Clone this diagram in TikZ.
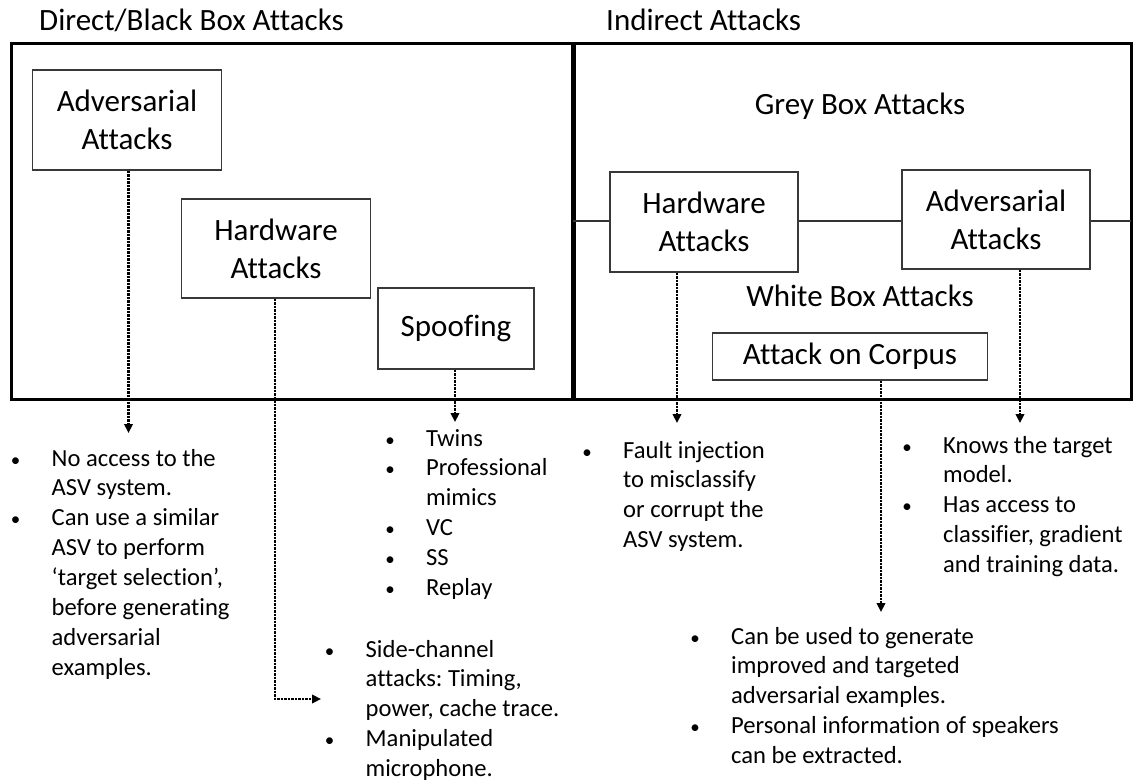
\documentclass[tikz,border=0pt]{standalone}
\usepackage{fontspec}
\setmainfont{Carlito}[RawFeature={-liga;-clig;-calt}]
\usetikzlibrary{arrows.meta}

% bullet centred on the list's left edge, text 36pt further right
\newcommand{\bul}{\makebox[36pt][l]{\makebox[0pt]{\fontsize{19}{19}\selectfont\textbullet}}}

\begin{document}
\frenchspacing
\begin{tikzpicture}[x=1pt,y=-1pt,
  frame/.style={line width=3pt, draw=black},
  divider/.style={line width=5pt, draw=black},
  zone/.style={line width=1.2pt, draw=black!80},
  attackbox/.style={draw=black!78, line width=1.3pt, fill=white, inner sep=0pt,
    align=center, font=\fontsize{31}{38}\selectfont},
  heading/.style={inner sep=0pt, font=\fontsize{31}{38}\selectfont},
  notes/.style={inner sep=0pt, anchor=base west, font=\fontsize{24.6}{29.9}\selectfont},
  lead/.style={line width=2.6pt, dash pattern=on 2.4pt off 1.1pt,
    -{Triangle[length=9pt,width=8.5pt]}},
]
\useasboundingbox (0,0) rectangle (1133,781);

% outer frame and the split between direct and indirect attacks
\coordinate (fnw) at (11,44);
\coordinate (fse) at (1131,399);
\coordinate (dtop) at (573,44);
\coordinate (dbot) at (573,399);
\draw[frame] (fnw) rectangle (fse);
\draw[divider] (dtop) -- (dbot);

% boundary between the grey box and white box regions
\coordinate (gw) at (573,221);
\coordinate (ge) at (1131,221);
\draw[zone] (gw) -- (ge);

% headings
\node[heading, anchor=base west] (hdirect) at (39,31) {Direct/Black Box Attacks};
\node[heading, anchor=base west] (hindirect) at (606,31) {Indirect Attacks};
\node[heading, anchor=base] (hgrey) at (860,115) {Grey Box Attacks};
\node[heading, anchor=base] (hwhite) at (860,306) {White Box Attacks};

% direct attacks
\node[attackbox, minimum width=188.5pt, minimum height=100pt] (ladv) at (127,120) {Adversarial\\Attacks};
\node[attackbox, minimum width=188.5pt, minimum height=99pt] (lhw) at (276,248.5) {Hardware\\Attacks};
\node[attackbox, minimum width=156pt, minimum height=81pt] (spoof) at (456,328.5) {Spoofing};

% indirect attacks
\node[attackbox, minimum width=188pt, minimum height=100pt] (rhw) at (704,222) {Hardware\\Attacks};
\node[attackbox, minimum width=188pt, minimum height=99pt] (radv) at (996,219.5) {Adversarial\\Attacks};
\node[attackbox, minimum width=275.6pt, minimum height=47pt] (corpus) at (850,356.5) {Attack on Corpus};

% descriptions
\node[notes] (nladv) at (15.5,466) {\begin{tabular}[t]{@{}l@{}l@{}}
\bul & No access to the\\
     & ASV system.\\
\bul & Can use a similar\\
     & ASV to perform\\
     & ‘target selection’,\\
     & before generating\\
     & adversarial\\
     & examples.
\end{tabular}};

\node[notes] (nspoof) at (390,446) {\begin{tabular}[t]{@{}l@{}l@{}}
\bul & Twins\\
\bul & Professional\\
     & mimics\\
\bul & VC\\
\bul & SS\\
\bul & Replay
\end{tabular}};

\node[notes] (nlhw) at (329.5,657) {\begin{tabular}[t]{@{}l@{}l@{}}
\bul & Side-channel\\
     & attacks: Timing,\\
     & power, cache trace.\\
\bul & Manipulated\\
     & microphone.
\end{tabular}};

\node[notes] (nrhw) at (587,458) {\begin{tabular}[t]{@{}l@{}l@{}}
\bul & Fault injection\\
     & to misclassify\\
     & or corrupt the\\
     & ASV system.
\end{tabular}};

\node[notes] (nradv) at (907,453) {\begin{tabular}[t]{@{}l@{}l@{}}
\bul & Knows the target\\
     & model.\\
\bul & Has access to\\
     & classifier, gradient\\
     & and training data.
\end{tabular}};

\node[notes] (ncorpus) at (695,644) {\begin{tabular}[t]{@{}l@{}l@{}}
\bul & Can be used to generate\\
     & improved and targeted\\
     & adversarial examples.\\
\bul & Personal information of speakers\\
     & can be extracted.
\end{tabular}};

% dotted leads from each attack to its description
\coordinate (tladv) at (128.5,433);
\coordinate (clhw) at (275,699);
\coordinate (tlhw) at (321,699);
\coordinate (tspoof) at (455,422);
\coordinate (trhw) at (677,423);
\coordinate (tcorpus) at (881,612);
\coordinate (tradv) at (1020,423);

\draw[lead] (tladv |- ladv.south) -- (tladv);
\draw[lead] (clhw |- lhw.south) -- (clhw) -- (tlhw);
\draw[lead] (tspoof |- spoof.south) -- (tspoof);
\draw[lead] (trhw |- rhw.south) -- (trhw);
\draw[lead] (tcorpus |- corpus.south) -- (tcorpus);
\draw[lead] (tradv |- radv.south) -- (tradv);
\end{tikzpicture}
\end{document}
